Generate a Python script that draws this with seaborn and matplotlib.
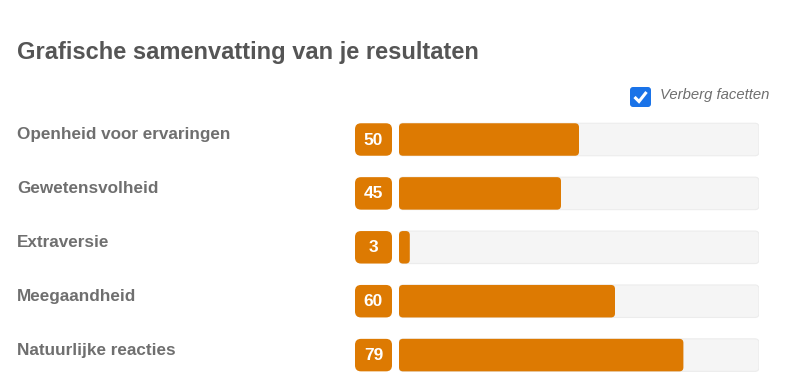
import matplotlib
matplotlib.use("Agg")
import matplotlib.pyplot as plt
import matplotlib.transforms as mtransforms
from matplotlib.patches import FancyBboxPatch
import seaborn as sns

# ----------------------------
# DATA
# ----------------------------
traits = ["Openheid voor ervaringen", "Gewetensvolheid", "Extraversie",
          "Meegaandheid", "Natuurlijke reacties"]
scores = [50, 45, 3, 60, 79]
max_score = 100

TITLE = "Grafische samenvatting van je resultaten"
TOGGLE = "Verberg facetten"

ORANGE = "#DD7A02"
TRACK = "#F5F5F5"
TRACK_EDGE = "#ECECEC"
TEXT_GREY = "#6F6F6F"
TITLE_GREY = "#555555"
BLUE = "#1A73E8"

W, H = 798, 379
sns.set_theme(style="white")
plt.rcParams["font.family"] = ["Liberation Sans", "DejaVu Sans"]

fig = plt.figure(figsize=(W / 100, H / 100), dpi=100)

# bar area: track spans 399..759 px, rows 54 px apart, first centre at 139 px
row_h = 53.9
top_px = 139.5 - row_h / 2
ax = fig.add_axes([399 / W, 1 - (top_px + row_h * 5) / H, 360 / W, row_h * 5 / H])

bar_w = 32.5 / row_h
sns.barplot(x=[max_score] * len(traits), y=traits, color=TRACK, width=bar_w,
            orient="h", ax=ax, saturation=1)
sns.barplot(x=scores, y=traits, color=ORANGE, width=bar_w,
            orient="h", ax=ax, saturation=1)
ax.set_xlim(0, max_score)
ax.set_ylim(len(traits) - 0.5, -0.5)
ax.axis("off")

# swap the plain rectangles for rounded ones
px_x = max_score / 360.0
px_y = 1.0 / row_h
rects = list(ax.patches)
for i, r in enumerate(rects):
    x, y = r.get_x(), r.get_y()
    w, h = r.get_width(), r.get_height()
    is_track = i < len(traits)
    p = FancyBboxPatch((x, y), w, h,
                       boxstyle=f"round,pad=0,rounding_size={4 * px_x}",
                       mutation_aspect=px_y / px_x,
                       facecolor=r.get_facecolor(),
                       edgecolor=TRACK_EDGE if is_track else "none",
                       linewidth=0.8 if is_track else 0)
    r.remove()
    ax.add_patch(p)

# score badges and labels
badge_tr = mtransforms.blended_transform_factory(ax.transAxes, ax.transData)
for i, (name, val) in enumerate(zip(traits, scores)):
    bx0 = (355 - 399) / 360
    bw = 37 / 360
    badge = FancyBboxPatch((bx0, i - bar_w / 2), bw, bar_w,
                           boxstyle=f"round,pad=0,rounding_size={6 / 360}",
                           mutation_aspect=(1 / row_h) / (1 / 360),
                           facecolor=ORANGE, edgecolor="none",
                           transform=badge_tr, clip_on=False)
    ax.add_patch(badge)
    ax.text(bx0 + bw / 2, i + 0.5 / row_h, str(val), transform=badge_tr,
            ha="center", va="center", color="white", fontsize=12.5,
            fontweight="bold", clip_on=False)
    ax.text((17 - 399) / 360, i - 5 / row_h, name, transform=badge_tr,
            ha="left", va="center", color=TEXT_GREY, fontsize=12.3,
            fontweight="bold", clip_on=False)

# title
fig.text(17 / W, 1 - 53 / H, TITLE, ha="left", va="center",
         color=TITLE_GREY, fontsize=17, fontweight="bold")

# checkbox + toggle label
cb = FancyBboxPatch((630 / W, 1 - 107 / H), 21 / W, 20 / H,
                    boxstyle=f"round,pad=0,rounding_size={3 / W}",
                    mutation_aspect=W / H,
                    facecolor=BLUE, edgecolor="none", transform=fig.transFigure)
fig.patches.append(cb)
fig.lines.append(plt.Line2D([634.5 / W, 639 / W, 646.5 / W],
                            [1 - 97 / H, 1 - 101.5 / H, 1 - 92 / H],
                            transform=fig.transFigure, color="white",
                            linewidth=2.2, solid_capstyle="butt",
                            solid_joinstyle="miter"))
fig.text(660 / W, 1 - 95 / H, TOGGLE, ha="left", va="center",
         color=TEXT_GREY, fontsize=10.7, style="italic")

fig.savefig("out.png", dpi=100)
